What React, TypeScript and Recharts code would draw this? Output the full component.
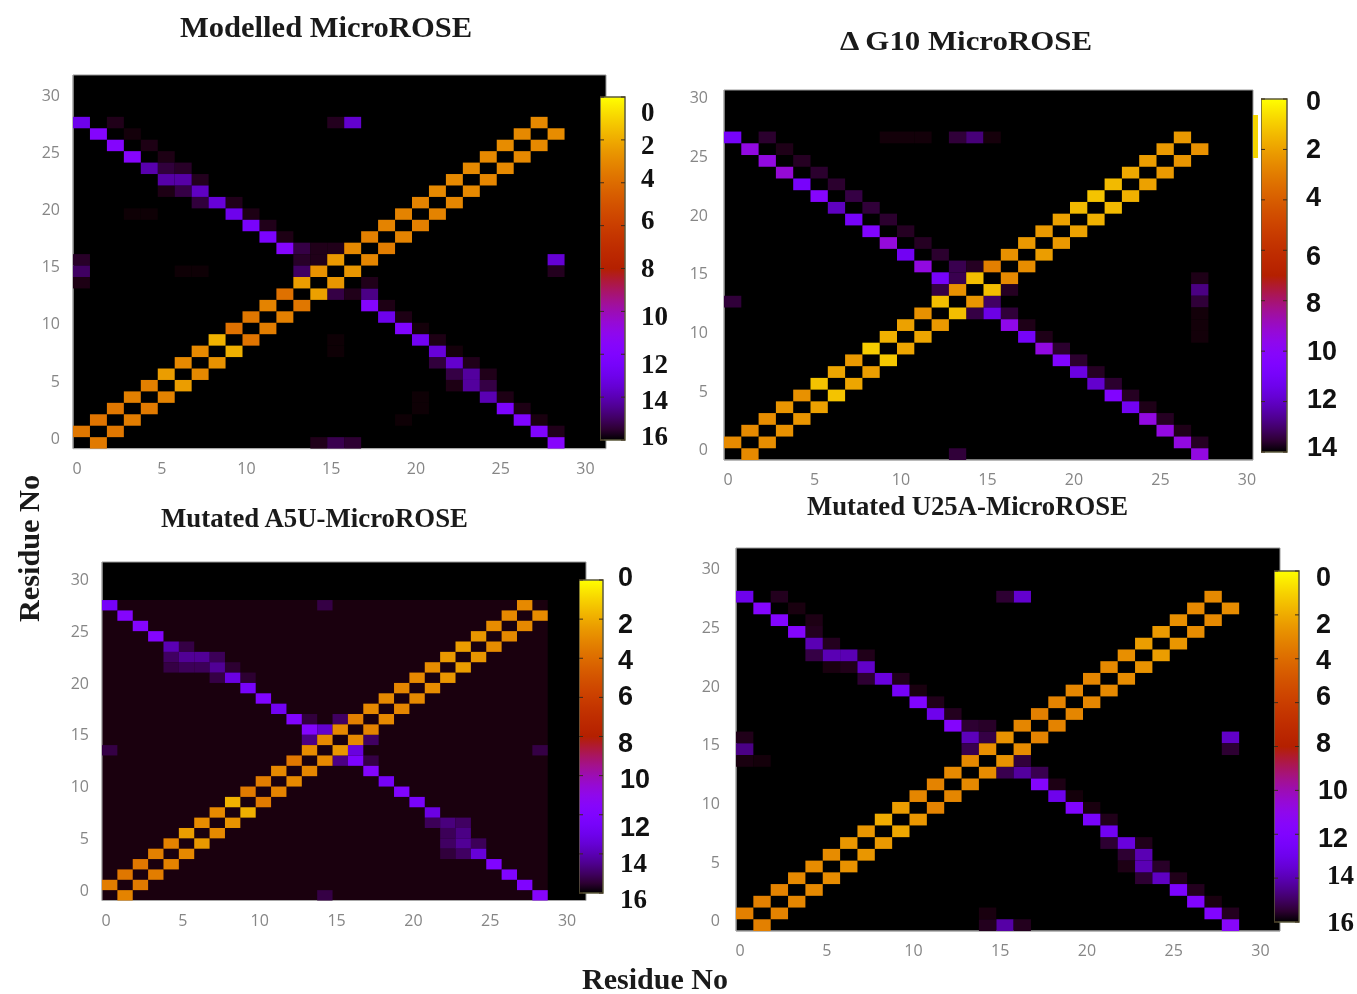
import React from "react";
import { ScatterChart, Scatter, XAxis, YAxis, ReferenceArea } from "recharts";

type Triple = [number, number, number];
type Cell = { x: number; y: number; d: number };

const AXIS_TICKS = [0, 5, 10, 15, 20, 25, 30];
const BAR_TICKS_16 = [0, 2, 4, 6, 8, 10, 12, 14, 16];
const BAR_TICKS_14 = [0, 2, 4, 6, 8, 10, 12, 14];

// Modelled MicroROSE: distance per residue pair, either side of the diagonal
const A_UPPER = [3.6, 3.7, 3.6, 3.3, 3.3, 2.4, 3.0, 3.0, 1.8, 3.8, 3.6, 3.2, 3.8, 2.4, 2.7, 2.5, 3.0, 3.3, 3.2, 3.2, 3.2, 3.0, 3.0, 3.0, 3.0, 2.9, 3.0, 3.0];
const A_LOWER = [3.5, 3.6, 3.4, 3.5, 3.2, 2.4, 3.0, 2.7, 1.9, 3.7, 3.4, 3.3, 3.6, 2.3, 2.6, 2.6, 3.1, 3.4, 3.2, 3.3, 3.2, 3.1, 3.0, 3.1, 3.0, 3.0, 3.0, 2.9];
const A_CROSS: Triple[] = [
  [0, 28, 13], [1, 27, 11.7], [2, 26, 11.7], [3, 25, 11.6], [4, 24, 14.1], [5, 23, 14.2], [6, 23, 14.2], [7, 22, 13.8],
  [8, 21, 13.4], [9, 20, 13], [10, 19, 12.4], [11, 18, 12.2], [12, 17, 11.7],
  [17, 12, 11.7], [18, 11, 13], [19, 10, 12], [20, 9, 12.8], [21, 8, 13.4], [22, 7, 13.6], [23, 6, 14.3], [23, 5, 14.3],
  [24, 4, 14], [25, 3, 12.2], [26, 2, 12], [27, 1, 12], [28, 0, 11.6],
];
const A_WEAK: Triple[] = [
  [2, 28, 15.75], [3, 27, 15.9], [4, 26, 15.8], [5, 25, 15.8], [5, 24, 15.4], [6, 24, 15.6], [7, 23, 15.7], [5, 22, 15.8], [6, 22, 15.3],
  [7, 21, 15.4], [9, 21, 15.75], [10, 20, 15.8], [11, 19, 15.75], [12, 18, 15.8], [15, 28, 15.7], [16, 28, 13.6],
  [0, 16, 15.6], [0, 15, 15], [0, 14, 15.8], [14, 0, 15.75], [15, 0, 15.2], [16, 0, 15.5],
  [28, 16, 13.5], [28, 15, 15.7], [13, 17, 15.3], [14, 17, 15.75], [15, 17, 15.75], [13, 16, 15.6], [14, 16, 15.75], [13, 15, 15],
  [15, 13, 15.3], [16, 13, 15.75], [17, 13, 14.6], [17, 14, 15.75], [18, 12, 15.8], [19, 11, 15.8], [20, 10, 15.9], [21, 9, 15.8], [22, 8, 15.9],
  [21, 7, 15.4], [23, 7, 15.75], [22, 6, 15.3], [24, 6, 15.75], [24, 5, 15.3], [22, 5, 15.8], [25, 4, 15.8], [26, 3, 15.8], [27, 2, 15.85], [28, 1, 15.75],
  [20, 3, 15.95], [20, 4, 15.95], [19, 2, 15.95], [15, 8, 15.95], [15, 9, 15.95], [3, 20, 15.95], [4, 20, 15.95], [6, 15, 15.95], [7, 15, 15.95],
];

// Delta G10 MicroROSE
const B_UPPER = [2.6, 2.6, 2.5, 2.3, 2.4, 1.2, 1.9, 2.2, 1.0, 1.6, 2.0, 2.4, 1.3, 2.4, 1.3, 2.9, 2.4, 2.2, 2.2, 2.0, 1.4, 1.2, 1.4, 1.8, 2.1, 2.2, 2.2];
const B_LOWER = [2.6, 2.5, 2.4, 2.3, 2.0, 1.2, 1.9, 2.1, 1.1, 1.9, 1.9, 2.2, 1.3, 2.3, 1.3, 2.6, 2.5, 2.1, 2.2, 2.0, 1.6, 1.4, 1.6, 2.0, 2.2, 2.3, 2.4];
const B_CROSS: Triple[] = [
  [0, 27, 11], [1, 26, 9.4], [2, 25, 9.4], [3, 24, 9.2], [4, 23, 10.9], [5, 22, 10.2], [6, 21, 12.1], [7, 20, 11], [8, 19, 10.4], [9, 18, 9.3],
  [10, 17, 11.2], [11, 16, 9.4], [12, 15, 11], [15, 12, 11.5], [16, 11, 9.6], [17, 10, 11], [18, 9, 9.4], [19, 8, 10.4], [20, 7, 11.6], [21, 6, 11.9],
  [22, 5, 10.4], [23, 4, 11.2], [24, 3, 9.4], [25, 2, 9.4], [26, 1, 9.4], [27, 0, 9.4],
];
const B_WEAK: Triple[] = [
  [2, 27, 13.6], [3, 26, 13.8], [4, 25, 13.7], [5, 24, 13.6], [6, 23, 13.6], [7, 22, 13.4], [8, 21, 13.5], [9, 20, 13.6], [10, 19, 13.7], [11, 18, 13.7],
  [12, 17, 13.6], [13, 16, 13.3], [13, 15, 13.3], [12, 14, 13.4], [14, 16, 13.7], [9, 27, 13.92], [10, 27, 13.92], [11, 27, 13.92], [13, 27, 13.5], [14, 27, 12.9], [15, 27, 13.9],
  [0, 13, 13.5], [14, 12, 13.4], [16, 12, 13.5], [15, 13, 13.1], [16, 14, 13.7], [17, 11, 13.8], [18, 10, 13.8], [19, 9, 13.6], [20, 8, 13.6], [21, 7, 13.7], [22, 6, 13.6],
  [23, 5, 13.7], [24, 4, 13.8], [25, 3, 13.7], [26, 2, 13.8], [27, 1, 13.7], [27, 15, 13.8], [27, 14, 12.8], [27, 13, 13.5], [27, 12, 13.92], [27, 11, 13.92], [27, 10, 13.92], [13, 0, 13.5],
];

// Mutated A5U-MicroROSE
const C_UPPER = [3.4, 3.6, 3.6, 3.3, 3.2, 2.4, 2.9, 3.0, 1.8, 3.5, 3.4, 3.0, 3.6, 2.9, 3.0, 3.0, 3.3, 3.0, 3.0, 3.1, 3.0, 2.9, 2.5, 2.4, 2.6, 2.9, 3.0, 3.0];
const C_LOWER = [3.2, 3.5, 3.4, 3.2, 3.0, 2.5, 3.0, 2.7, 1.9, 3.5, 3.2, 3.0, 3.1, 3.0, 2.6, 3.0, 3.2, 3.0, 3.1, 3.0, 2.9, 2.6, 2.4, 2.6, 2.9, 3.0, 3.0, 2.9];
const C_CROSS: Triple[] = [
  [0, 28, 12.6], [1, 27, 11.7], [2, 26, 11.7], [3, 25, 11.7], [4, 24, 14], [5, 23, 14.4], [6, 23, 14.4], [7, 22, 14.4], [8, 21, 13.2], [9, 20, 12.5], [10, 19, 12], [11, 18, 12.8],
  [12, 17, 11.9], [13, 16, 11.8], [14, 16, 13.6], [16, 14, 13.3], [16, 13, 12.2], [17, 12, 11.8], [18, 11, 12.6], [19, 10, 12], [20, 9, 12.4], [21, 8, 13.2],
  [22, 7, 14.7], [23, 7, 15], [23, 6, 14.6], [23, 5, 14.4], [23, 4, 15], [24, 4, 13.4], [25, 3, 12], [26, 2, 12], [27, 1, 12], [28, 0, 11.6],
];
const C_WEAK: Triple[] = [
  [4, 23, 15], [4, 22, 15.3], [5, 24, 15.3], [5, 22, 15.1], [6, 22, 15.1], [7, 23, 15.1], [8, 22, 15.5], [7, 21, 15.3], [9, 21, 15.5], [14, 28, 15.3], [0, 14, 15.3],
  [13, 15, 14.6], [13, 17, 15.4], [15, 17, 15], [22, 6, 15.1], [22, 5, 15], [22, 4, 15.4], [24, 5, 15.1], [21, 7, 15.1], [28, 14, 15.3], [14, 0, 15.3], [15, 13, 14.6], [17, 15, 15], [17, 13, 15.3],
];

// Mutated U25A-MicroROSE
const D_UPPER = [3.3, 3.3, 3.2, 3.0, 2.9, 2.9, 2.6, 2.6, 2.0, 2.4, 3.1, 3.2, 3.0, 3.0, 2.8, 2.7, 3.1, 3.3, 3.2, 3.1, 3.1, 3.0, 2.8, 2.4, 2.5, 2.8, 3.0, 3.0];
const D_LOWER = [3.3, 3.2, 3.1, 3.0, 2.9, 2.7, 2.6, 2.5, 2.1, 2.6, 3.2, 3.1, 3.0, 2.9, 2.7, 2.9, 3.2, 3.2, 3.1, 3.1, 3.0, 2.9, 2.7, 2.4, 2.6, 2.9, 3.0, 2.9];
const D_CROSS: Triple[] = [
  [0, 28, 13], [1, 27, 11.7], [2, 26, 11.8], [3, 25, 11.7], [4, 24, 14], [5, 23, 14], [6, 23, 14], [7, 22, 13.7], [8, 21, 13.3], [9, 20, 12.6], [10, 19, 12], [11, 18, 13], [12, 17, 11.7],
  [17, 12, 11.7], [18, 11, 13], [19, 10, 12], [20, 9, 12.4], [21, 8, 12.8], [22, 7, 13.3], [23, 6, 14], [23, 5, 14], [24, 4, 13.8], [25, 3, 12.2], [26, 2, 11.9], [27, 1, 11.9], [28, 0, 11.5],
];
const D_WEAK: Triple[] = [
  [13, 17, 15.5], [14, 17, 15.6], [13, 16, 13.9], [14, 16, 15.3], [13, 15, 15.2], [16, 28, 13.6], [15, 28, 15.5], [2, 28, 15.7], [3, 27, 15.85], [4, 26, 15.8], [4, 25, 15.7], [5, 24, 15.7],
  [4, 23, 15.3], [7, 23, 15.75], [5, 22, 15.85], [6, 22, 15.75], [7, 21, 15.5], [9, 21, 15.75], [10, 20, 15.85], [11, 19, 15.75], [12, 18, 15.7], [0, 16, 15.75], [0, 15, 14.6], [0, 14, 15.85], [1, 14, 15.9],
  [15, 13, 15.2], [16, 13, 14.3], [17, 13, 15.2], [21, 7, 15.5], [23, 7, 15.75], [22, 6, 15.5], [24, 5, 15.6], [22, 5, 15.8], [23, 4, 15.5], [25, 4, 15.75], [26, 3, 15.7], [27, 2, 15.85], [28, 1, 15.7],
  [18, 12, 15.8], [19, 11, 15.9], [20, 10, 15.85], [21, 9, 15.75], [28, 16, 13.7], [28, 15, 15.5], [15, 0, 14.2], [14, 0, 15.7], [16, 0, 15.7], [14, 1, 15.85], [16, 14, 15.4],
];

const buildCells = (upper: number[], lower: number[], cross: Triple[], weak: Triple[]): Cell[] => [
  ...weak.map(([x, y, d]) => ({ x, y, d })),
  ...cross.map(([x, y, d]) => ({ x, y, d })),
  ...upper.map((d, i) => ({ x: i, y: i + 1, d })),
  ...lower.map((d, i) => ({ x: i + 1, y: i, d })),
];

// layout of the four panels, in page pixels
const PANELS = [
  {
    id: "a", cells: buildCells(A_UPPER, A_LOWER, A_CROSS, A_WEAK), max: 16, barTicks: BAR_TICKS_16,
    left: 73, top: 75, right: 606, bottom: 448.6, colW: 16.95, rowH: 11.44, inset: 13,
    bar: { left: 600, top: 97, right: 625, bottom: 440 },
    labelX: [641, 641, 641, 641, 641, 641, 641, 641, 641],
    labelY: [112, 145, 178, 220, 268, 316, 364, 400, 436],
    labelFont: "Liberation Serif", labelSize: 27, serifFrom: 0,
  },
  {
    id: "b", cells: buildCells(B_UPPER, B_LOWER, B_CROSS, B_WEAK), max: 14, barTicks: BAR_TICKS_14,
    left: 724, top: 90, right: 1253, bottom: 460, colW: 17.3, rowH: 11.73, inset: 16,
    bar: { left: 1261, top: 99, right: 1287, bottom: 452 },
    labelX: [1306, 1306, 1306, 1306, 1306, 1307, 1307, 1307],
    labelY: [101, 149, 197, 256, 303, 351, 399, 447],
    labelFont: "Liberation Sans", labelSize: 27, serifFrom: 99,
  },
  {
    id: "c", cells: buildCells(C_UPPER, C_LOWER, C_CROSS, C_WEAK), max: 16, barTicks: BAR_TICKS_16,
    left: 102, top: 562, right: 586, bottom: 900.5, colW: 15.37, rowH: 10.36, wash: 29, inset: 13,
    bar: { left: 579, top: 580, right: 603, bottom: 893 },
    labelX: [618, 618, 618, 618, 618, 620, 620, 620, 620],
    labelY: [577, 624, 660, 696, 743, 779, 827, 863, 899],
    labelFont: "Liberation Sans", labelSize: 27, serifFrom: 7,
  },
  {
    id: "d", cells: buildCells(D_UPPER, D_LOWER, D_CROSS, D_WEAK), max: 16, barTicks: BAR_TICKS_16,
    left: 736, top: 548, right: 1280, bottom: 931, colW: 17.35, rowH: 11.73, inset: 16,
    bar: { left: 1274, top: 571, right: 1299, bottom: 922 },
    labelX: [1316, 1316, 1316, 1316, 1316, 1318, 1318, 1327, 1327],
    labelY: [577, 624, 660, 696, 743, 790, 838, 875, 922],
    labelFont: "Liberation Sans", labelSize: 27, serifFrom: 7,
  },
];

const TITLES = [
  { text: "Modelled MicroROSE", x: 180, y: 37, len: 292, size: 29 },
  { text: "Δ G10 MicroROSE", x: 840, y: 50, len: 252, size: 28 },
  { text: "Mutated A5U-MicroROSE", x: 161, y: 527, len: 307, size: 27 },
  { text: "Mutated U25A-MicroROSE", x: 807, y: 515, len: 321, size: 27 },
];

// gnuplot's default pm3d palette (rgbformulae 7,5,15), run backwards
function palette(d: number, max: number) {
  const g = Math.min(1, Math.max(0, 1 - d / max));
  const r = Math.sqrt(g);
  const gr = g * g * g;
  const b = Math.max(0, Math.sin(2 * Math.PI * g));
  return `rgb(${Math.round(r * 255)},${Math.round(gr * 255)},${Math.round(b * 255)})`;
}

const GRAD_STOPS = Array.from({ length: 33 }, (_, i) => i / 32);
const LEFT_GUTTER = 48;

function Heatmap({ p }: { p: (typeof PANELS)[number] }) {
  const plotW = p.right - p.left;
  const plotH = p.bottom - p.top;
  const xMax = plotW / p.colW;
  const yMax = plotH / p.rowH;
  return (
    <div style={{ position: "absolute", left: p.left - LEFT_GUTTER, top: p.top - 12 }}>
      <ScatterChart width={plotW + LEFT_GUTTER + 30} height={plotH + 44} margin={{ top: 12, right: 30, bottom: 0, left: 0 }}>
        <XAxis
          type="number" dataKey="x" domain={[0, xMax]} ticks={AXIS_TICKS} height={32} interval={0}
          axisLine={{ stroke: "#a8a8a8" }} tickLine={false}
          tick={(t: any) => (
            <text x={t.x + 4} y={plotH + 31} textAnchor="middle" dominantBaseline="central" fill="#868686" fontSize={16} fontFamily="Open Sans">
              {t.payload.value}
            </text>
          )}
        />
        <YAxis
          type="number" dataKey="y" domain={[0, yMax]} ticks={AXIS_TICKS} width={LEFT_GUTTER} interval={0}
          axisLine={{ stroke: "#a8a8a8" }} tickLine={false}
          tick={(t: any) => (
            <text x={LEFT_GUTTER - p.inset} y={t.y - 10.7} textAnchor="end" dominantBaseline="central" fill="#868686" fontSize={16} fontFamily="Open Sans">
              {t.payload.value}
            </text>
          )}
        />
        <ReferenceArea x1={0} x2={xMax} y1={0} y2={yMax} fill="#000" fillOpacity={1} stroke="#9a9a9a" strokeWidth={1} />
        {p.wash ? <ReferenceArea x1={0} x2={p.wash} y1={0} y2={p.wash} fill="#1a000e" fillOpacity={1} stroke="none" /> : null}
        <Scatter
          data={p.cells}
          isAnimationActive={false}
          shape={(s: any) => (
            <rect x={s.cx} y={s.cy - p.rowH} width={p.colW} height={p.rowH} fill={palette(s.payload.d, p.max)} />
          )}
        />
      </ScatterChart>
    </div>
  );
}

function ColorBar({ p }: { p: (typeof PANELS)[number] }) {
  const pad = 24;
  const barW = p.bar.right - p.bar.left;
  const barH = p.bar.bottom - p.bar.top;
  const gutter = 90;
  const chartTop = p.bar.top - pad;
  const marks = p.barTicks.flatMap((v) => [{ x: 0, y: v }, { x: 1, y: v }]);
  return (
    <div style={{ position: "absolute", left: p.bar.left, top: chartTop }}>
      <ScatterChart width={barW + gutter} height={barH + 2 * pad} margin={{ top: pad, right: 0, bottom: pad, left: 0 }}>
        <defs>
          <linearGradient id={`bar-${p.id}`} x1="0" y1="0" x2="0" y2="1">
            {GRAD_STOPS.map((o) => (
              <stop key={o} offset={o} stopColor={palette(o * p.max, p.max)} />
            ))}
          </linearGradient>
        </defs>
        <XAxis type="number" dataKey="x" domain={[0, 1]} hide />
        <YAxis
          type="number" dataKey="y" orientation="right" reversed domain={[0, p.max]} ticks={p.barTicks} width={gutter} interval={0}
          axisLine={false} tickLine={false}
          tick={(t: any) => (
            <text
              x={p.labelX[t.index] - p.bar.left}
              y={p.labelY[t.index] - chartTop}
              dominantBaseline="central"
              fill="#111"
              fontWeight="bold"
              fontSize={p.labelSize}
              fontFamily={t.index >= p.serifFrom ? "Liberation Serif" : p.labelFont}
            >
              {t.payload.value}
            </text>
          )}
        />
        <ReferenceArea x1={0} x2={1} y1={0} y2={p.max} fill={`url(#bar-${p.id})`} fillOpacity={1} stroke="#5c5a3c" strokeWidth={1.5} />
        <Scatter
          data={marks}
          isAnimationActive={false}
          shape={(s: any) => (
            <line x1={s.cx} x2={s.payload.x === 0 ? s.cx + 4 : s.cx - 4} y1={s.cy} y2={s.cy} stroke="#3a2a1a" strokeWidth={1} />
          )}
        />
      </ScatterChart>
    </div>
  );
}

export default function App() {
  return (
    // the source figure is a soft, upscaled bitmap, hence the slight blur
    <div style={{ position: "absolute", left: 0, top: 0, width: 1357, height: 994, background: "#fff", overflow: "hidden", filter: "blur(0.6px)" }}>
      {PANELS.map((p) => <Heatmap key={p.id} p={p} />)}
      {PANELS.map((p) => <ColorBar key={p.id} p={p} />)}
      {/* yellow smear next to the second panel's bar */}
      <div style={{ position: "absolute", left: 1253, top: 115, width: 5, height: 43, background: "#f3d400" }} />
      <svg width={1357} height={994} style={{ position: "absolute", left: 0, top: 0, pointerEvents: "none" }}>
        <g fontFamily="Liberation Serif" fontWeight="bold" fill="#1a1a1a">
          {TITLES.map((t) => (
            <text key={t.text} x={t.x} y={t.y} fontSize={t.size} textLength={t.len} lengthAdjust="spacingAndGlyphs">{t.text}</text>
          ))}
          <text x={582} y={989} fontSize={30} textLength={146} lengthAdjust="spacingAndGlyphs">Residue No</text>
          <text transform="translate(39,622) rotate(-90)" fontSize={30} textLength={147} lengthAdjust="spacingAndGlyphs">Residue No</text>
        </g>
      </svg>
    </div>
  );
}
